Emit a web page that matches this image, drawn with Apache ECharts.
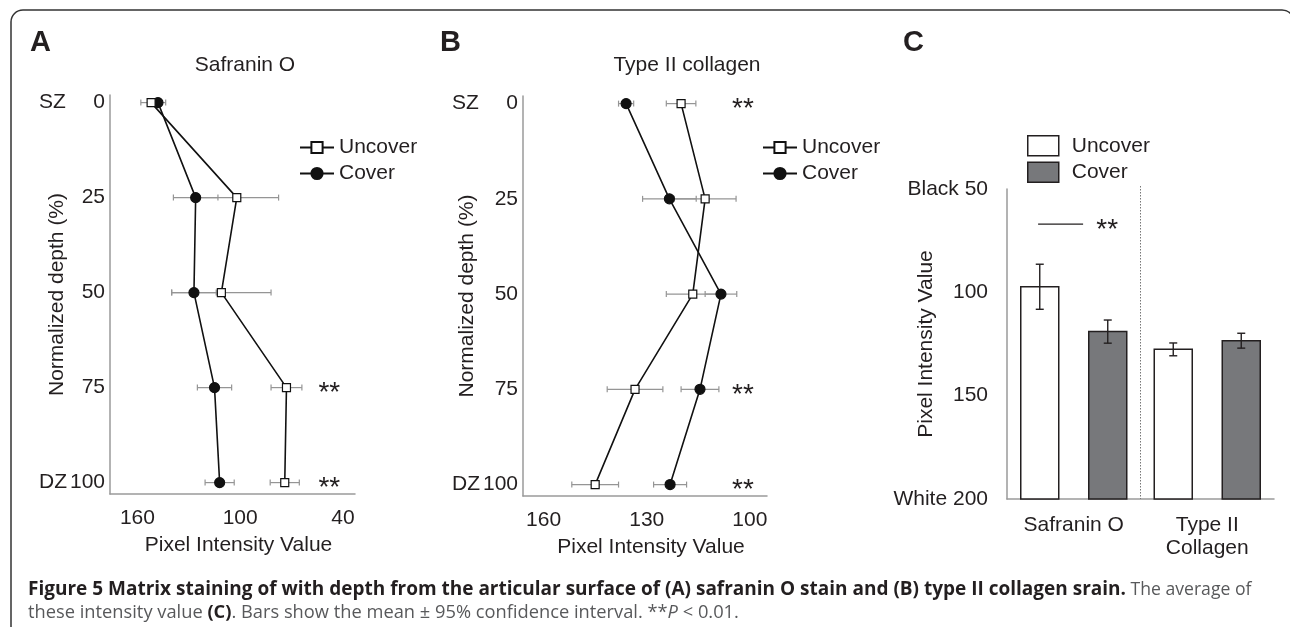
<!DOCTYPE html>
<html>
<head>
<meta charset="utf-8">
<style>
html,body{margin:0;padding:0;background:#fff;}
#chart{width:1290px;height:627px;}
</style>
<script src="https://cdn.jsdelivr.net/npm/echarts@6/dist/echarts.min.js"></script>
</head>
<body>
<div id="chart"></div>
<script>
// ---------- data ----------
var depths = [0, 25, 50, 75, 100];
var depthTicks = [0, 25, 50, 75, 100];

var safUncover    = [152, 102, 111, 73, 74];
var safUncoverErr = [6, 24.4, 29, 9, 8.5];
var safCover      = [148, 126, 127, 115, 112];
var safCoverErr   = [4.5, 13, 13, 10, 8.5];
var safTicks      = [160, 100, 40];
var safStars      = [[48, 75], [48, 100]];

var colUncover    = [120, 113, 116.6, 133.4, 145];
var colUncoverErr = [4.3, 9, 7.7, 8.1, 6.8];
var colCover      = [136, 123.4, 108.4, 114.5, 123.2];
var colCoverErr   = [2.2, 7.8, 4.6, 5.5, 4.8];
var colTicks      = [160, 130, 100];
var colStars      = [[102, 0], [102, 75], [102, 100]];

var avgCategories = ['Safranin O', 'Type II\nCollagen'];
var avgUncover    = [97.3, 127.6];
var avgUncoverErr = [10.9, 3.1];
var avgCover      = [119, 123.4];
var avgCoverErr   = [5.6, 3.6];
var avgTicks      = [50, 100, 150, 200];
var avgSig        = [[0, 67]];

// ---------- styling ----------
var FONT = '"Liberation Sans", Arial, Helvetica, sans-serif';
var FS = 21;
var TXT = '#231f20';
var AXIS = '#9a9a9a';
var ERR = '#959595';
var CAP = '"Open Sans", sans-serif';

function zip(a, b, c) {
  return a.map(function (v, i) { return c ? [v, b[i], c[i]] : [v, b[i]]; });
}

function errH(params, api) {
  var v = api.value(0), d = api.value(1), e = api.value(2);
  var a = api.coord([v - e, d]), b = api.coord([v + e, d]);
  var h = 3;
  var st = {stroke: ERR, lineWidth: 1.2};
  return {type: 'group', children: [
    {type: 'line', shape: {x1: a[0], y1: a[1], x2: b[0], y2: b[1]}, style: st},
    {type: 'line', shape: {x1: a[0], y1: a[1] - h, x2: a[0], y2: a[1] + h}, style: st},
    {type: 'line', shape: {x1: b[0], y1: b[1] - h, x2: b[0], y2: b[1] + h}, style: st}
  ]};
}

function starsItem(params, api) {
  var p = api.coord([api.value(0), api.value(1)]);
  return {type: 'text', x: p[0], y: p[1] + 6, style: {
    text: '**', align: 'center', verticalAlign: 'middle',
    font: '28px ' + FONT, fill: TXT}};
}

function barItem(off) {
  return function (params, api) {
    var c = api.value(0), v = api.value(1), e = api.value(2);
    var top = api.coord([c, v]);
    var base = api.coord([c, 200]);
    var band = api.size([1, 0])[0];
    var w = band * 38 / 133.5;
    var cx = top[0] + band * off;
    var eLo = api.coord([c, v - e]), eHi = api.coord([c, v + e]);
    var cap = 4;
    var es = {stroke: TXT, lineWidth: 1.4};
    return {type: 'group', children: [
      {type: 'rect', shape: {x: cx - w / 2, y: top[1], width: w, height: base[1] - top[1]}, style: api.style()},
      {type: 'line', shape: {x1: cx, y1: eLo[1], x2: cx, y2: eHi[1]}, style: es},
      {type: 'line', shape: {x1: cx - cap, y1: eLo[1], x2: cx + cap, y2: eLo[1]}, style: es},
      {type: 'line', shape: {x1: cx - cap, y1: eHi[1], x2: cx + cap, y2: eHi[1]}, style: es}
    ]};
  };
}

function dividerItem(params, api) {
  var a = api.coord([0, 50]), b = api.coord([1, 200]);
  var x = (a[0] + b[0]) / 2;
  return {type: 'line', shape: {x1: x, y1: a[1] - 3, x2: x, y2: b[1]},
    style: {stroke: '#777', lineWidth: 1, lineDash: [1.5, 1.5]}};
}

function sigItem(params, api) {
  var p = api.coord([api.value(0), api.value(1)]);
  var band = api.size([1, 0])[0];
  return {type: 'group', children: [
    {type: 'line', shape: {x1: p[0] - band * 0.267, y1: p[1], x2: p[0] + band * 0.07, y2: p[1]},
      style: {stroke: TXT, lineWidth: 1.4}},
    {type: 'text', x: p[0] + band * 0.25, y: p[1] + 6, style: {
      text: '**', align: 'center', verticalAlign: 'middle', font: '28px ' + FONT, fill: TXT}}
  ]};
}

var depthLabel = {
  customValues: depthTicks,
  margin: 5,
  formatter: function (v) {
    var p = v === 0 ? 'SZ' : (v === 100 ? 'DZ' : ' ');
    return '{z|' + p + '}{n|' + v + '}';
  },
  rich: {
    z: {width: 30, align: 'left', fontSize: FS, fontFamily: FONT, color: TXT},
    n: {width: 36, align: 'right', fontSize: FS, fontFamily: FONT, color: TXT}
  }
};

function depthAxis(gridIndex, gap) {
  return {
    type: 'value', gridIndex: gridIndex, inverse: true, min: -2, max: 103,
    name: 'Normalized depth (%)', nameLocation: 'middle', nameRotate: 90, nameGap: gap,
    nameMoveOverlap: false,
    nameTextStyle: {fontSize: FS, fontFamily: FONT, color: TXT},
    axisLine: {show: true, lineStyle: {color: AXIS, width: 1.5}},
    axisTick: {show: false}, splitLine: {show: false},
    axisLabel: depthLabel
  };
}

function intensityAxis(gridIndex, min, max, ticks) {
  return {
    type: 'value', gridIndex: gridIndex, inverse: true, min: min, max: max,
    name: 'Pixel Intensity Value', nameLocation: 'middle', nameGap: 41,
    nameMoveOverlap: false,
    nameTextStyle: {fontSize: FS, fontFamily: FONT, color: TXT, padding: [0, 0, 0, 12]},
    axisLine: {show: true, onZero: false, lineStyle: {color: AXIS, width: 1.5}},
    axisTick: {show: false}, splitLine: {show: false},
    axisLabel: {customValues: ticks, margin: 14, fontSize: FS, fontFamily: FONT, color: TXT}
  };
}

function lineSeries(name, xi, data, sym, size, fill) {
  return {
    type: 'line', name: name, xAxisIndex: xi, yAxisIndex: xi, data: data,
    symbol: sym, symbolSize: size, z: 3,
    lineStyle: {color: '#111', width: 1.6},
    itemStyle: {color: fill, borderColor: '#111', borderWidth: 1.2},
    animation: false
  };
}

function errSeries(xi, data) {
  return {type: 'custom', xAxisIndex: xi, yAxisIndex: xi, data: data,
    renderItem: errH, z: 1, silent: true, animation: false};
}

var legendText = {fontSize: FS, fontFamily: FONT, color: TXT, lineHeight: 21};
var legendTextC = {fontSize: FS, fontFamily: FONT, color: TXT, lineHeight: 21, padding: [0, 0, 0, 8]};

var option = {
  animation: false,
  backgroundColor: '#fff',
  textStyle: {fontFamily: FONT, color: TXT},
  grid: [
    {left: 110, top: 95, width: 245, height: 399},
    {left: 523, top: 96, width: 244, height: 400},
    {left: 1007, top: 189, width: 267, height: 310}
  ],
  xAxis: [
    intensityAxis(0, 33, 176, safTicks),
    intensityAxis(1, 95, 166, colTicks),
    {
      type: 'category', gridIndex: 2, data: avgCategories, boundaryGap: true,
      axisLine: {show: true, lineStyle: {color: AXIS, width: 1.5}},
      axisTick: {show: false}, splitLine: {show: false},
      axisLabel: {margin: 15, fontSize: FS, lineHeight: 23, fontFamily: FONT, color: TXT}
    }
  ],
  yAxis: [
    depthAxis(0, 42),
    depthAxis(1, 45),
    {
      type: 'value', gridIndex: 2, inverse: true, min: 50, max: 200,
      name: 'Pixel Intensity Value', nameLocation: 'middle', nameRotate: 90, nameGap: 70,
      nameMoveOverlap: false,
      nameTextStyle: {fontSize: FS, fontFamily: FONT, color: TXT},
      axisLine: {show: true, lineStyle: {color: AXIS, width: 1.5}},
      axisTick: {show: false}, splitLine: {show: false},
      axisLabel: {
        customValues: avgTicks, margin: 19, fontSize: FS, fontFamily: FONT, color: TXT,
        formatter: function (v) { return v === 50 ? 'Black 50' : (v === 200 ? 'White 200' : String(v)); }
      }
    }
  ],
  legend: [
    {
      orient: 'vertical', left: 299, top: 137, padding: 0, itemWidth: 34, itemHeight: 14, itemGap: 5,
      textStyle: legendText, selectedMode: false,
      data: ['A-Uncover', 'A-Cover'],
      formatter: function (n) { return n.slice(2); }
    },
    {
      orient: 'vertical', left: 762, top: 137, padding: 0, itemWidth: 34, itemHeight: 14, itemGap: 5,
      textStyle: legendText, selectedMode: false,
      data: ['B-Uncover', 'B-Cover'],
      formatter: function (n) { return n.slice(2); }
    },
    {
      orient: 'vertical', left: 1027, top: 135, padding: 0, itemWidth: 31, itemHeight: 20, itemGap: 5,
      textStyle: legendTextC, selectedMode: false,
      data: [
        {name: 'C-Uncover', icon: 'rect', itemStyle: {color: '#fff', borderColor: TXT, borderWidth: 1.5}},
        {name: 'C-Cover', icon: 'rect', itemStyle: {color: '#77787b', borderColor: TXT, borderWidth: 1.5}}
      ],
      formatter: function (n) { return n.slice(2); }
    }
  ],
  series: [
    errSeries(0, zip(safUncover, depths, safUncoverErr)),
    errSeries(0, zip(safCover, depths, safCoverErr)),
    lineSeries('A-Cover', 0, zip(safCover, depths), 'circle', 10, '#111'),
    lineSeries('A-Uncover', 0, zip(safUncover, depths), 'rect', 8, '#fff'),
    {type: 'custom', xAxisIndex: 0, yAxisIndex: 0, data: safStars, renderItem: starsItem, silent: true},

    errSeries(1, zip(colUncover, depths, colUncoverErr)),
    errSeries(1, zip(colCover, depths, colCoverErr)),
    lineSeries('B-Cover', 1, zip(colCover, depths), 'circle', 10, '#111'),
    lineSeries('B-Uncover', 1, zip(colUncover, depths), 'rect', 8, '#fff'),
    {type: 'custom', xAxisIndex: 1, yAxisIndex: 1, data: colStars, renderItem: starsItem, silent: true},

    {type: 'custom', xAxisIndex: 2, yAxisIndex: 2, data: [[0]], renderItem: dividerItem, silent: true, z: 1},
    {type: 'custom', name: 'C-Uncover', xAxisIndex: 2, yAxisIndex: 2,
      data: zip(avgCategories.map(function (c, i) { return i; }), avgUncover, avgUncoverErr),
      itemStyle: {color: '#fff', borderColor: TXT, borderWidth: 1.5},
      renderItem: barItem(-34 / 133.5), z: 2},
    {type: 'custom', name: 'C-Cover', xAxisIndex: 2, yAxisIndex: 2,
      data: zip(avgCategories.map(function (c, i) { return i; }), avgCover, avgCoverErr),
      itemStyle: {color: '#77787b', borderColor: TXT, borderWidth: 1.5},
      renderItem: barItem(34 / 133.5), z: 2},
    {type: 'custom', xAxisIndex: 2, yAxisIndex: 2, data: avgSig, renderItem: sigItem, silent: true, z: 2}
  ],
  graphic: [
    {type: 'rect', shape: {x: 11, y: 10, width: 1283, height: 700, r: 12},
      style: {fill: 'none', stroke: '#333', lineWidth: 1.5}, silent: true},
    {type: 'text', x: 30, y: 43, style: {text: 'A', font: 'bold 29px ' + FONT, fill: TXT, verticalAlign: 'middle'}},
    {type: 'text', x: 440, y: 43, style: {text: 'B', font: 'bold 29px ' + FONT, fill: TXT, verticalAlign: 'middle'}},
    {type: 'text', x: 903, y: 43, style: {text: 'C', font: 'bold 29px ' + FONT, fill: TXT, verticalAlign: 'middle'}},
    {type: 'text', x: 245, y: 65, style: {text: 'Safranin O', font: FS + 'px ' + FONT, fill: TXT, align: 'center', verticalAlign: 'middle'}},
    {type: 'text', x: 687, y: 65, style: {text: 'Type II collagen', font: FS + 'px ' + FONT, fill: TXT, align: 'center', verticalAlign: 'middle'}},
    {type: 'text', x: 28, y: 590, style: {
      text: '{b|Figure 5 Matrix staining of with depth from the articular surface of (A) safranin O stain and (B) type II collagen srain.}{r| The average of}',
      verticalAlign: 'middle',
      rich: {
        b: {fontFamily: CAP, fontWeight: 'bold', fontSize: 19, fill: TXT, color: TXT},
        r: {fontFamily: CAP, fontSize: 17.6, fill: '#58595b', color: '#58595b'}
      }}},
    {type: 'text', x: 28, y: 613, style: {
      text: '{r|these intensity value }{b|(C)}{r|. Bars show the mean \u00b1 95% confidence interval. **}{i|P}{r| < 0.01.}',
      verticalAlign: 'middle',
      rich: {
        b: {fontFamily: CAP, fontWeight: 'bold', fontSize: 18.3, fill: TXT, color: TXT},
        r: {fontFamily: CAP, fontSize: 18.3, fill: '#58595b', color: '#58595b'},
        i: {fontFamily: CAP, fontStyle: 'italic', fontSize: 18.3, fill: '#58595b', color: '#58595b'}
      }}}
  ]
};

var chart = echarts.init(document.getElementById('chart'), null, {renderer: 'canvas'});
chart.setOption(option);
</script>
</body>
</html>
